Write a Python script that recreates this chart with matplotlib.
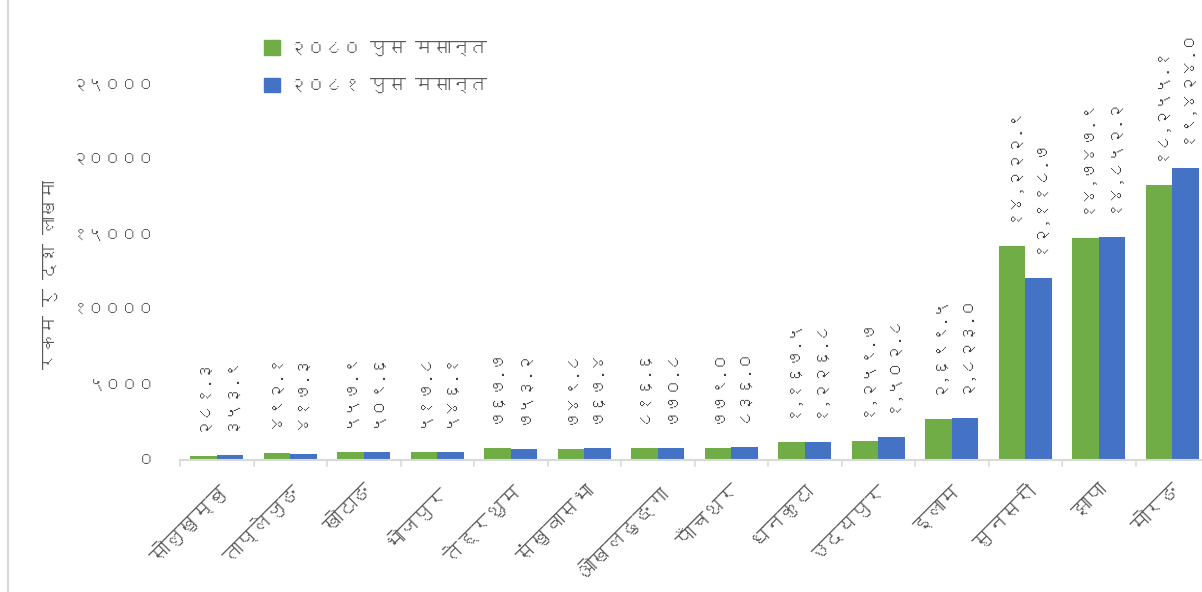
import matplotlib
matplotlib.use("Agg")
from matplotlib import pyplot as plt
from matplotlib import font_manager
from matplotlib.ft2font import FT2Font
from matplotlib.lines import Line2D
import numpy as np

districts = ["सोलुखुम्बु", "ताप्लेजुङ", "खोटाङ", "भोजपुर", "तेह्रथुम", "संखुवासभा",
             "ओखलढुङ्गा", "पाँचथर", "धनकुटा", "उदयपुर", "इलाम", "सुनसरी", "झापा", "मोरङ"]
y2080 = [281.3, 492.1, 557.9, 517.8, 767.7, 749.8, 816.6, 779.0,
         1167.5, 1259.7, 2699.5, 14222.9, 14747.9, 18255.1]
y2081 = [353.9, 417.3, 509.6, 546.1, 753.2, 767.4, 770.8, 836.0,
         1226.8, 1502.8, 2823.0, 12118.7, 14852.2, 19424.0]
series_names = ["२०८० पुस मसान्त", "२०८१ पुस मसान्त"]
y_ticks = [0, 5000, 10000, 15000, 20000, 25000]
y_title = "रकम रु दश लाखमा"

GREEN = "#70ad47"
BLUE = "#4472c4"
TXT = "#595959"

DEV = str.maketrans("0123456789", "०१२३४५६७८९")


def _find_devanagari_font():
    for f in font_manager.fontManager.ttflist:
        try:
            cmap = FT2Font(f.fname).get_charmap()
        except Exception:
            continue
        if 0x0915 in cmap and 0x0966 in cmap:
            return f.name
    return None


dev_font = _find_devanagari_font()
families = [dev_font, "DejaVu Sans"] if dev_font else ["DejaVu Sans"]
plt.rcParams["font.family"] = families


def _dev(v, decimals=True):
    s = f"{v:,.1f}" if decimals else f"{v:d}"
    return s.translate(DEV)


fig = plt.figure(figsize=(12.02, 5.92), dpi=100)
W, H = 1202, 592
ax = fig.add_axes([180 / W, (H - 460) / H, (1209 - 180) / W, 376 / H])

x = np.arange(len(districts))
bw = 0.36
b1 = ax.bar(x - bw / 2, y2080, width=bw, color=GREEN, label=series_names[0])
b2 = ax.bar(x + bw / 2, y2081, width=bw, color=BLUE, label=series_names[1])

for bars, vals in ((b1, y2080), (b2, y2081)):
    for rect, v in zip(bars, vals):
        ax.annotate(_dev(v), (rect.get_x() + rect.get_width() / 2, v),
                    xytext=(0, 25), textcoords="offset pixels",
                    rotation=90, ha="center", va="bottom", fontsize=12,
                    color="#404040", annotation_clip=False)

ax.set_xlim(-0.5, len(districts) - 0.5)
ax.set_ylim(0, 25000)
ax.set_yticks(y_ticks)
ax.set_yticklabels([_dev(t, decimals=False) for t in y_ticks], fontsize=12, color=TXT)
ax.tick_params(axis="y", length=0, pad=18)

ax.set_xticks(x)
ax.set_xticklabels(districts, rotation=45, ha="right", rotation_mode="anchor",
                   fontsize=14.5, color=TXT)
ax.tick_params(axis="x", length=0, pad=15)
for b in np.arange(len(districts) + 1) - 0.5:
    ax.plot([b, b], [0, -420], color="#d9d9d9", lw=1.2, clip_on=False)

for side in ("top", "right", "left"):
    ax.spines[side].set_visible(False)
ax.spines["bottom"].set_color("#d9d9d9")
ax.spines["bottom"].set_linewidth(1.5)

fig.text(50 / W, 1 - 275 / H, y_title, rotation=90, ha="center", va="center",
         fontsize=13, color=TXT)

handles = [plt.Rectangle((0, 0), 1, 1, color=GREEN), plt.Rectangle((0, 0), 1, 1, color=BLUE)]
fig.legend(handles, series_names, loc="upper left", bbox_to_anchor=(248 / W, 1 - 24 / H),
           frameon=False, fontsize=13, handlelength=0.85, handleheight=0.85,
           handletextpad=0.5, labelspacing=1.2, labelcolor=TXT)

fig.add_artist(Line2D([8 / W, 8 / W], [0, 1], color="#d9d9d9", lw=1.5))

plt.savefig("out.png", dpi=100)
